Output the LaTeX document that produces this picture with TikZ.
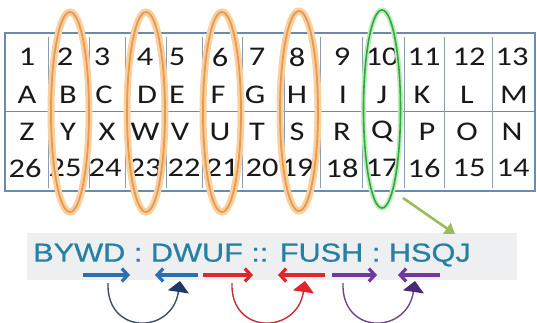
\documentclass[tikz,border=0pt]{standalone}
\usepackage{fontspec}
\setmainfont{Carlito}
\newfontfamily\bandfont[FakeBold=0.6]{Liberation Sans}
\usetikzlibrary{shapes.geometric,arrows.meta}
\definecolor{tblborder}{HTML}{6A8AAE}
\definecolor{tblline}{HTML}{8C9BB0}
\definecolor{orline}{HTML}{E79A4E}
\definecolor{orglow}{HTML}{F9D0A0}
\definecolor{grline}{HTML}{2FA843}
\definecolor{grglow}{HTML}{BDEDB8}
\definecolor{olive}{HTML}{9DBB5B}
\definecolor{bandgray}{HTML}{EDEFF1}
\definecolor{bandtext}{HTML}{2580A2}
\definecolor{blu}{HTML}{2B6FB5}
\definecolor{bluc}{HTML}{3A4D6C}
\definecolor{blut}{HTML}{1F3A66}
\definecolor{rd}{HTML}{E0262A}
\definecolor{rdc}{HTML}{CC2B35}
\definecolor{pu}{HTML}{7237A0}
\definecolor{puc}{HTML}{6B4590}
\definecolor{put}{HTML}{4A2A78}
\newcommand\wx[1]{\scalebox{1.2}[1]{#1}}
\tikzset{
  cell/.style={inner sep=0pt, font=\fontsize{27}{27}\selectfont, text=black!90},
  oring/.style={ellipse, inner sep=0pt, minimum width=38pt, minimum height=200pt,
     preaction={draw=orglow, line width=7pt}, draw=orline, line width=1.8pt},
  gring/.style={ellipse, inner sep=0pt, minimum width=37pt, minimum height=198pt,
     preaction={draw=grglow, line width=5pt}, draw=grline, line width=1.6pt},
  flatarrow/.style={line width=3.2pt, -{Straight Barb[length=6pt,width=13pt]}},
  curvearrow/.style={line width=1.4pt},
}
\begin{document}
\begin{tikzpicture}[x=1pt,y=-1pt]
\useasboundingbox (0,0) rectangle (537,323);
% table
\node[draw=tblborder, line width=1.2pt, inner sep=0pt, minimum width=530pt, minimum height=158pt] (tbl) at (270,112) {};
\draw[tblborder, line width=1pt] (tbl.west) -- (tbl.east);
\foreach \x in {48,89,125,166,202,242,284,320,362,404,444,492}
  \draw[tblline, line width=0.6pt] (\x,37) -- (\x,188);
% row 1
\foreach \t/\x [count=\i] in {1/27,2/65,3/102,4/145,5/177,6/220,7/257,8/297,9/342,10/382,11/424,12/469,13/512}
  \node[cell] (n\i) at (\x,57) {\wx{\t}};
% row 2
\foreach \t/\x in {A/27,B/68,C/104,D/147,E/177,F/218,G/255,H/297,I/343,J/382,K/422,L/467,M/514}
  \node[cell] (u\t) at (\x,95) {\wx{\t}};
% row 3
\foreach \t/\x in {Z/27,Y/68,X/107,W/145,V/180,U/220,T/257,S/297,R/342,Q/382,P/427,O/467,N/512}
  \node[cell] (l\t) at (\x,132) {\wx{\t}};
% row 4
\foreach \t/\x in {26/25,25/65,24/105,23/145,22/184,21/222,20/262,19/297,18/342,17/382,16/424,15/469,14/513}
  \node[cell] (m\t) at (\x,168) {\wx{\t}};
% rings
\node[oring] (e2) at (70,112) {};
\node[oring] (e4) at (146,112) {};
\node[oring] (e6) at (222,112) {};
\node[oring] (e8) at (299,111) {};
\node[gring] (e10) at (382,109) {};
% band
\node[fill=bandgray, inner sep=0pt, minimum width=490pt, minimum height=47pt] (band) at (272,256) {};
\node[inner sep=0pt, text=bandtext, font=\bandfont\fontsize{26}{26}\selectfont] (eq) at (252,255)
  {\scalebox{1.18}[1]{BYWD : DWUF :: FUSH : HSQJ}};
% green arrow
\coordinate (gs) at (403,198);
\coordinate (ge) at (455,234);
\draw[olive, line width=2.6pt, -{Triangle[length=10pt,width=13pt]}] (gs) -- (ge);
% flat arrows
\coordinate (b1s) at (83,275);  \coordinate (b1e) at (130,275);
\coordinate (b2s) at (198,275); \coordinate (b2e) at (155,275);
\coordinate (r1s) at (203,275); \coordinate (r1e) at (253,275);
\coordinate (r2s) at (325,275); \coordinate (r2e) at (278,275);
\coordinate (p1s) at (332,275); \coordinate (p1e) at (377,275);
\coordinate (p2s) at (440,275); \coordinate (p2e) at (398,275);
\draw[flatarrow, blu] (b1s) -- (b1e);
\draw[flatarrow, blu] (b2s) -- (b2e);
\draw[flatarrow, rd] (r1s) -- (r1e);
\draw[flatarrow, rd] (r2s) -- (r2e);
\draw[flatarrow, pu] (p1s) -- (p1e);
\draw[flatarrow, pu] (p2s) -- (p2e);
% curved arrows
\coordinate (bc1) at (108,283); \coordinate (bc2) at (180,281);
\coordinate (rc1) at (232,283); \coordinate (rc2) at (305,281);
\coordinate (pc1) at (343,283); \coordinate (pc2) at (415,281);
\draw[curvearrow, bluc, -{Triangle[length=11pt,width=21pt,color=blut]}] (bc1) .. controls (106,335) and (172,335) .. (bc2);
\draw[curvearrow, rdc, -{Triangle[length=11pt,width=21pt,color=rd]}] (rc1) .. controls (230,335) and (297,335) .. (rc2);
\draw[curvearrow, puc, -{Triangle[length=11pt,width=21pt,color=put]}] (pc1) .. controls (341,335) and (407,335) .. (pc2);
\end{tikzpicture}
\end{document}
